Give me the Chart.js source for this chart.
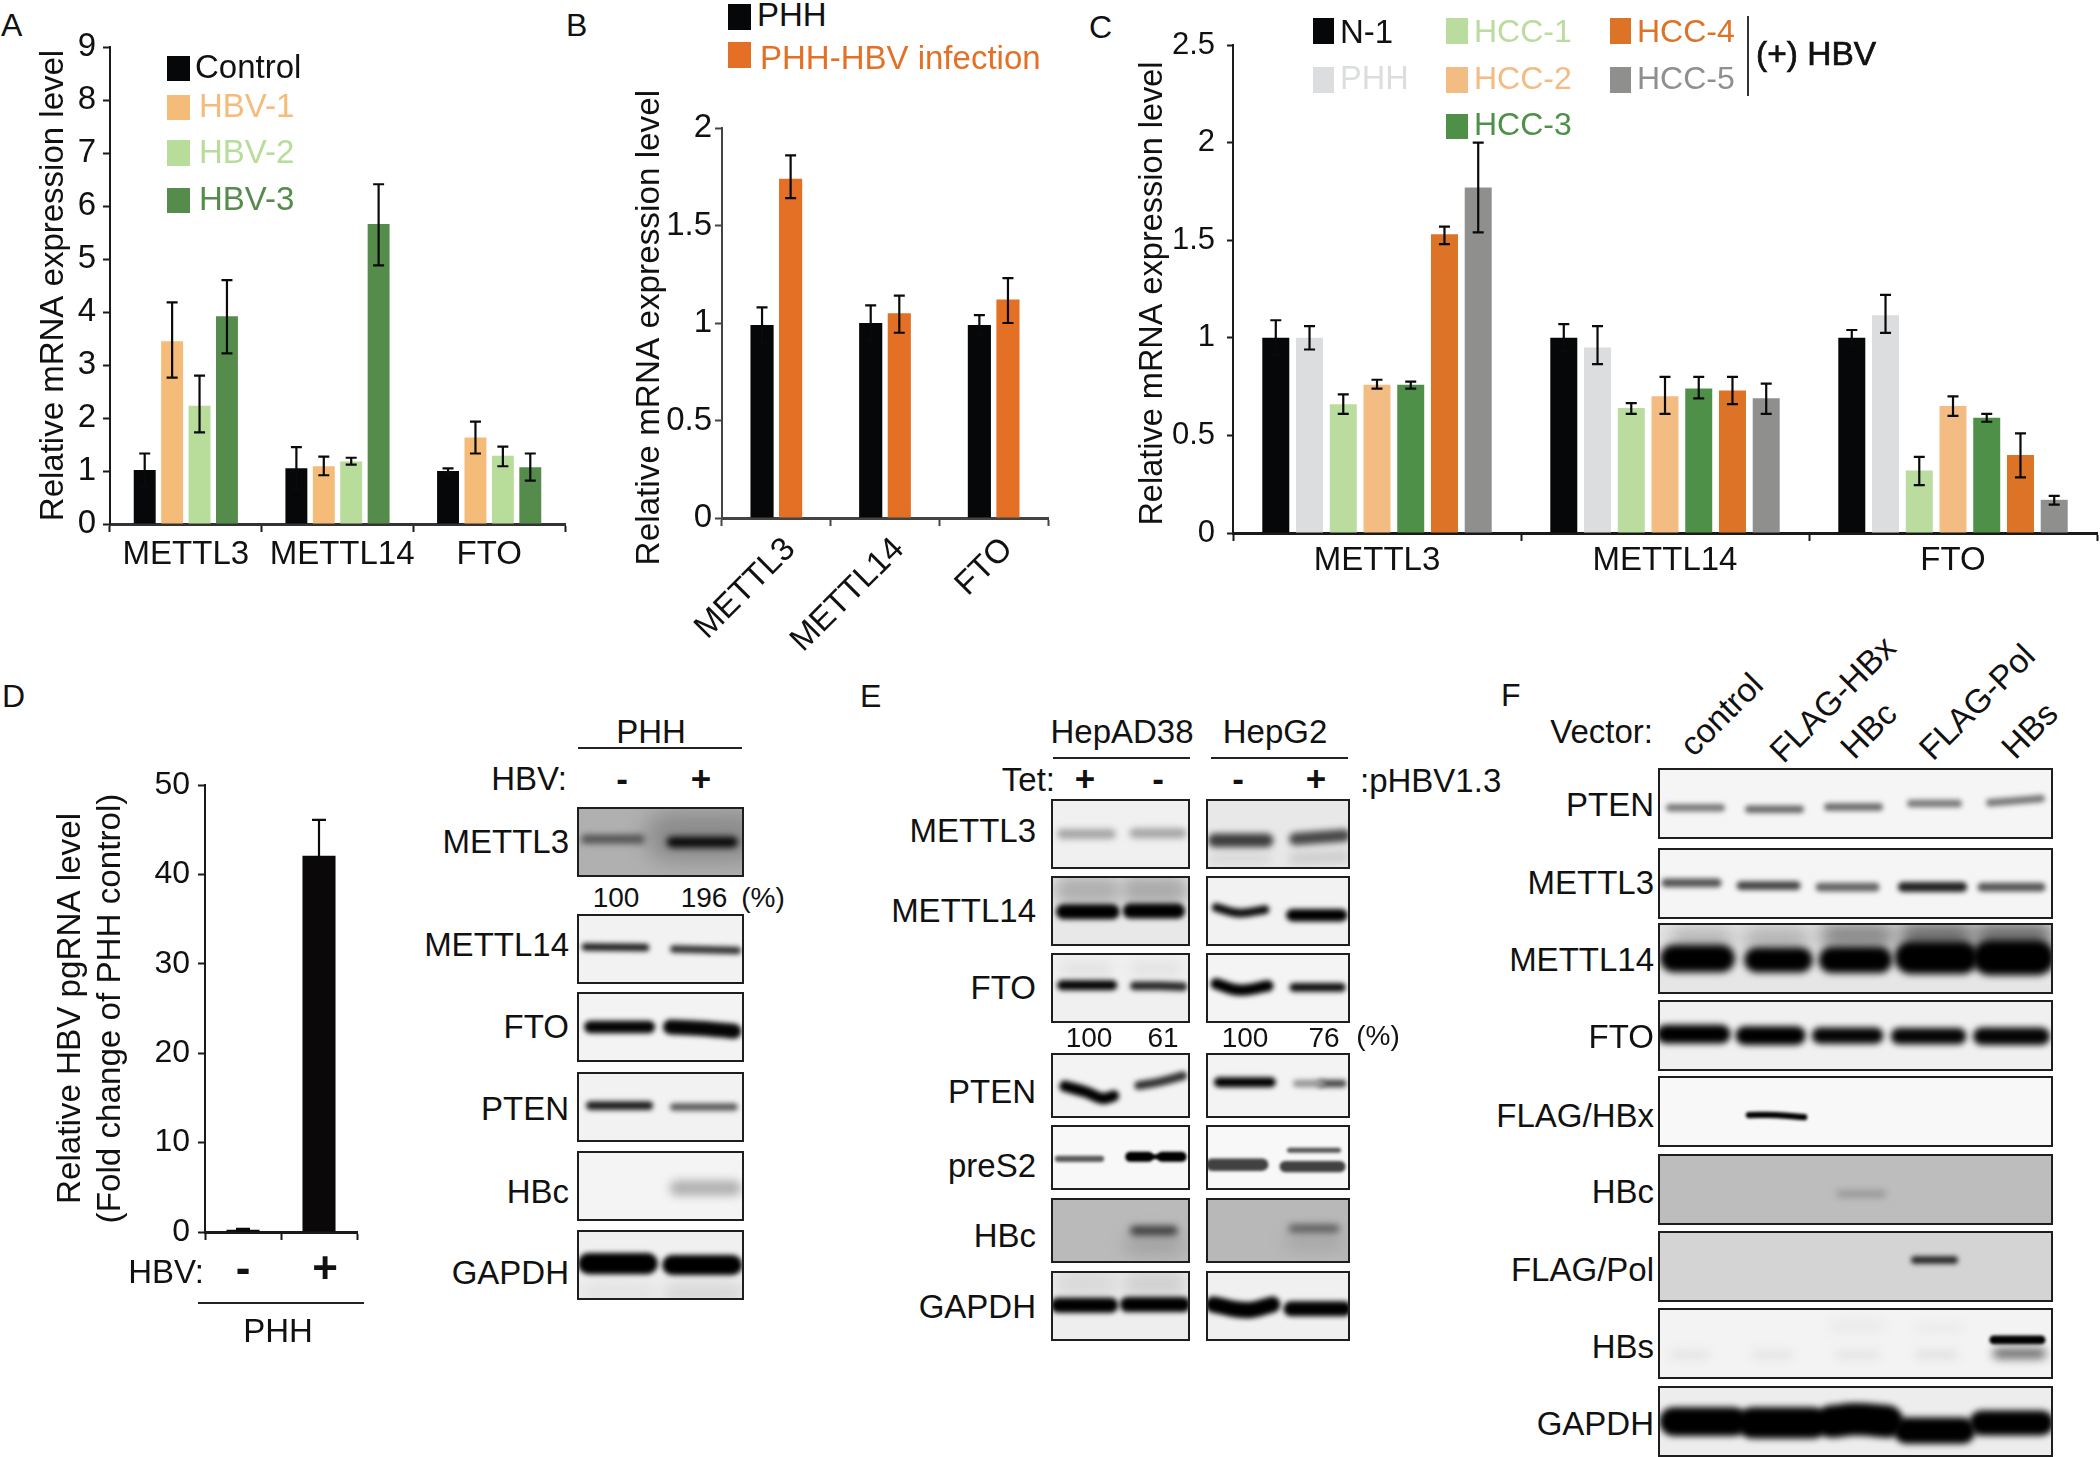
<!DOCTYPE html>
<html>
<head>
<meta charset="utf-8">
<title>HBV and m6A regulators</title>
<script src="https://cdn.jsdelivr.net/npm/chart.js@4"></script>
<style>
    html, body { margin: 0; padding: 0; background: #fff; }
    #page { position: relative; width: 2100px; height: 1457px; overflow: hidden; font-family: "Liberation Sans", Arial, sans-serif; color: #111; }
    #page canvas { position: absolute; }
    .txt { position: absolute; line-height: 1; white-space: nowrap; }
    .box { position: absolute; }
</style>
</head>
<body>
<div id="page"></div>
<script>
const genes = ["METTL3", "METTL14", "FTO"];

// panel A
const controlA = [1.02, 1.05, 1.0];
const hbv1A = [3.45, 1.09, 1.63];
const hbv2A = [2.23, 1.18, 1.29];
const hbv3A = [3.92, 5.66, 1.07];
const hiA = [[1.33, 1.45, 1.05], [4.18, 1.27, 1.93], [2.8, 1.25, 1.46], [4.6, 6.41, 1.33]];
const loA = [[0.71, 0.65, 0.95], [2.76, 0.92, 1.33], [1.73, 1.12, 1.09], [3.22, 4.88, 0.82]];
const ticksA = [0, 1, 2, 3, 4, 5, 6, 7, 8, 9];

// panel B
const phhB = [0.99, 1.0, 0.99];
const infectedB = [1.74, 1.05, 1.12];
const hiB = [[1.08, 1.09, 1.04], [1.86, 1.14, 1.23]];
const loB = [[0.9, 0.91, 0.94], [1.64, 0.95, 1.0]];
const ticksB = [0, 0.5, 1, 1.5, 2];

// panel C
const n1C = [1.0, 1.0, 1.0];
const phhC = [1.0, 0.95, 1.115];
const hcc1C = [0.66, 0.64, 0.32];
const hcc2C = [0.76, 0.7, 0.65];
const hcc3C = [0.76, 0.74, 0.59];
const hcc4C = [1.53, 0.73, 0.4];
const hcc5C = [1.77, 0.69, 0.17];
const hiC = [[1.09, 1.07, 1.04], [1.06, 1.06, 1.22], [0.71, 0.665, 0.39], [0.785, 0.8, 0.7], [0.775, 0.8, 0.61], [1.57, 0.8, 0.51], [2.0, 0.765, 0.19]];
const loC = [[0.91, 0.93, 0.96], [0.94, 0.865, 1.025], [0.61, 0.61, 0.245], [0.74, 0.61, 0.6], [0.74, 0.69, 0.57], [1.48, 0.66, 0.285], [1.54, 0.61, 0.145]];
const ticksC = [0, 0.5, 1, 1.5, 2, 2.5];

// panel D
const signsD = ["-", "+"];
const pgrnaD = [0.25, 42.1];
const hiD = [[0.35, 46.1]];
const loD = [[0.15, 41.5]];
const ticksD = [0, 10, 20, 30, 40, 50];

// blots: each band is [[x, y, x, y, ...], thickness, grey, blur], on a 0-100 scale of the blot
const blotBgD = [176, 242, 243, 242, 244, 240];
const blotD = [
    [[[5, 46, 38, 46], 7, 80, 2.5], [[57, 50, 93, 50], 9, 10, 2.5], [[56, 42, 96, 42], 40, 140, 9]],
    [[[5, 47, 41, 48], 6, 30, 2], [[58, 50, 96, 52], 6, 50, 2]],
    [[[8, 50, 43, 50], 10, 5, 2], [[56, 50, 75, 52, 94, 56], 12, 5, 2]],
    [[[8, 48, 43, 48], 7, 30, 2], [[58, 50, 94, 50], 6, 90, 2]],
    [[[60, 53, 94, 53], 12, 175, 4]],
    [[[7, 48, 42, 48], 17, 0, 2], [[57, 50, 93, 50], 16, 0, 2], [[8, 90, 42, 90], 16, 225, 6], [[58, 90, 94, 90], 18, 215, 6]]
];
const blotBgE1 = [240, 232, 240, 243, 248, 186, 238];
const blotE1 = [
    [[[8, 50, 43, 50], 8, 165, 2.5], [[60, 49, 94, 49], 8, 165, 2.5]],
    [[[9, 51, 44, 51], 12, 0, 2], [[57, 50, 91, 50], 12, 0, 2], [[12, 20, 41, 20], 24, 175, 6], [[60, 20, 89, 20], 24, 170, 6]],
    [[[8, 46, 44, 46], 8, 5, 2], [[60, 47, 78, 47, 95, 48], 7, 40, 2], [[12, 22, 40, 22], 10, 225, 5], [[62, 22, 90, 22], 10, 225, 5]],
    [[[10, 51, 25, 60, 37, 70, 45, 66], 9, 0, 2], [[63, 50, 77, 45, 95, 35], 7, 50, 2]],
    [[[5, 52, 36, 52], 5, 90, 1.5], [[57, 49, 70, 49], 8, 0, 1.5], [[80, 49, 94, 49], 8, 0, 1.5], [[57, 49, 94, 49], 4, 20, 1]],
    [[[60, 50, 88, 50], 7, 55, 3], [[60, 70, 88, 70], 16, 160, 7]],
    [[[5, 49, 43, 49], 12, 0, 2], [[55, 48, 95, 48], 12, 0, 2], [[10, 18, 40, 18], 20, 215, 7], [[60, 18, 90, 18], 20, 205, 7]]
];
const blotBgE2 = [232, 242, 244, 243, 248, 184, 240];
const blotE2 = [
    [[[6, 59, 42, 59], 11, 60, 2.5], [[62, 57, 96, 52], 10, 70, 2.5], [[6, 85, 42, 85], 8, 215, 4], [[62, 85, 96, 82], 10, 205, 4]],
    [[[7, 45, 23, 53, 41, 48], 7, 15, 2], [[60, 56, 94, 56], 10, 0, 2]],
    [[[7, 44, 23, 53, 43, 47], 9, 0, 2], [[61, 49, 94, 49], 7, 15, 2]],
    [[[9, 45, 45, 45], 8, 0, 2], [[63, 47, 80, 47], 6, 150, 2], [[80, 47, 95, 47], 6, 70, 2]],
    [[[4, 61, 39, 61], 10, 65, 1.5], [[58, 39, 92, 39], 4, 85, 1.5], [[55, 64, 93, 64], 9, 65, 1.5]],
    [[[60, 47, 90, 47], 6, 85, 3], [[60, 67, 90, 67], 12, 165, 6]],
    [[[5, 48, 28, 56, 46, 48], 13, 0, 2], [[59, 54, 96, 54], 12, 0, 2]]
];
const blotBgF = [245, 245, 230, 240, 248, 189, 212, 243, 237];
const blotF = [
    [[[3, 56, 16, 56], 6, 120, 2], [[23, 58, 36, 58], 6, 105, 2], [[43, 55, 56, 55], 6, 105, 2], [[64, 50, 76, 50], 6, 120, 2], [[84, 49, 97, 43], 6, 120, 2]],
    [[[2, 49, 15, 49], 7, 85, 2], [[21, 53, 35, 53], 7, 70, 2], [[41, 55, 55, 55], 7, 100, 2], [[62, 55, 77, 55], 8, 35, 2], [[82, 55, 97, 55], 7, 85, 2]],
    [[[4, 50, 16, 50], 22, 0, 3], [[25, 52, 36, 52], 20, 0, 3], [[44, 52, 56, 52], 21, 0, 3], [[64, 49, 77, 49], 26, 0, 3], [[84, 49, 96, 49], 28, 0, 3], [[5, 22, 17, 22], 14, 170, 7], [[24, 22, 36, 22], 16, 170, 7], [[44, 18, 57, 18], 20, 130, 7], [[64, 18, 77, 18], 20, 100, 7], [[83, 18, 97, 18], 20, 100, 7]],
    [[[2, 48, 16, 48], 15, 0, 2.5], [[22, 50, 35, 50], 15, 0, 2.5], [[41, 50, 55, 50], 13, 5, 2.5], [[61, 51, 76, 51], 13, 5, 2.5], [[82, 51, 97, 51], 14, 5, 2.5]],
    [[[23, 55, 30, 55, 37, 58], 5, 0, 1.5]],
    [[[46, 56, 57, 56], 5, 145, 3]],
    [[[65, 41, 75, 41], 6, 35, 2]],
    [[[85, 45, 97, 45], 7, 0, 1.5], [[86, 64, 97, 64], 8, 100, 4], [[4, 66, 12, 66], 6, 225, 4], [[25, 66, 33, 66], 6, 225, 4], [[46, 66, 55, 66], 6, 225, 4], [[66, 66, 75, 66], 6, 222, 4], [[45, 25, 56, 25], 8, 232, 5], [[66, 28, 76, 28], 6, 232, 5]],
    [[[4, 50, 19, 50], 23, 0, 2.5], [[24, 52, 39, 52], 25, 0, 2.5], [[44, 50, 50, 47, 58, 50], 26, 0, 2.5], [[63, 63, 77, 63], 21, 0, 2.5], [[82, 52, 97, 52], 20, 0, 2.5]]
];
const blotRowsD = ["METTL3", "METTL14", "FTO", "PTEN", "HBc", "GAPDH"];
const blotRowsE = ["METTL3", "METTL14", "FTO", "PTEN", "preS2", "HBc", "GAPDH"];
const blotRowsF = ["PTEN", "METTL3", "METTL14", "FTO", "FLAG/HBx", "HBc", "FLAG/Pol", "HBs", "GAPDH"];
const vectorsF = ["control", "FLAG-HBx", "HBc", "FLAG-Pol", "HBs"];

const FONT = '"Liberation Sans", Arial, sans-serif';
const page = document.getElementById("page");

function txt(str, x, y, opt) {
    opt = opt || {};
    const el = document.createElement("div");
    el.className = "txt";
    el.textContent = str;
    el.style.left = x + "px";
    el.style.top = y + "px";
    el.style.fontSize = (opt.size || 33) + "px";
    el.style.color = opt.color || "#111";
    if (opt.weight) el.style.fontWeight = opt.weight;
    if (opt.stroke) el.style.webkitTextStroke = opt.stroke;
    const shift = opt.align === "right" ? "-100%" : opt.align === "center" ? "-50%" : "0";
    if (opt.rot) {
        el.style.transformOrigin = "100% 50%";
        el.style.transform = "translate(-100%,-50%) rotate(" + opt.rot + "deg)";
    } else {
        el.style.transform = "translate(" + shift + ",-50%)";
    }
    page.appendChild(el);
}

function box(x, y, w, h, color) {
    const el = document.createElement("div");
    el.className = "box";
    el.style.cssText = "left:" + x + "px;top:" + y + "px;width:" + w + "px;height:" + h + "px;background:" + color;
    page.appendChild(el);
}

function addCanvas(x, y, w, h) {
    const c = document.createElement("canvas");
    c.width = w;
    c.height = h;
    c.style.left = x + "px";
    c.style.top = y + "px";
    c.style.width = w + "px";
    c.style.height = h + "px";
    page.appendChild(c);
    return c;
}

// whiskers for the bars, taken from errHi / errLo on each dataset
const errorBars = {
    id: "errorBars",
    afterDatasetsDraw(chart) {
        const ctx = chart.ctx;
        const y = chart.scales.y;
        ctx.save();
        ctx.strokeStyle = "#0a0a0a";
        ctx.lineWidth = 2.2;
        chart.data.datasets.forEach((ds, i) => {
            chart.getDatasetMeta(i).data.forEach((bar, j) => {
                const top = y.getPixelForValue(ds.errHi[j]);
                const bot = y.getPixelForValue(ds.errLo[j]);
                const cap = ds.capSize || 5.5;
                ctx.beginPath();
                ctx.moveTo(bar.x, top);
                ctx.lineTo(bar.x, bot);
                ctx.moveTo(bar.x - cap, top);
                ctx.lineTo(bar.x + cap, top);
                ctx.moveTo(bar.x - cap, bot);
                ctx.lineTo(bar.x + cap, bot);
                ctx.stroke();
            });
        });
        ctx.restore();
    }
};

function barPanel(cfg) {
    const left = cfg.titleX - 20;
    const top = cfg.topY - 60;
    const width = cfg.rightX - left + 20;
    const height = cfg.zeroY - top + cfg.bottom;
    const canvas = addCanvas(left, top, width, height);
    const axisColor = cfg.axisColor || "#1a1a1a";
    new Chart(canvas, {
        type: "bar",
        data: {
            labels: cfg.labels,
            datasets: cfg.series.map((s, i) => ({
                label: s.name,
                data: s.values,
                backgroundColor: s.color,
                errHi: cfg.hi[i],
                errLo: cfg.lo[i],
                capSize: cfg.capSize,
                categoryPercentage: cfg.catPct,
                barPercentage: cfg.barPct
            }))
        },
        options: {
            responsive: false,
            animation: false,
            layout: { padding: { top: 60, right: 20 } },
            plugins: { legend: { display: false }, tooltip: { enabled: false } },
            scales: {
                x: {
                    afterFit: s => { s.height = cfg.bottom; },
                    border: { color: cfg.baseColor || axisColor, width: 3 },
                    grid: { drawOnChartArea: false, tickLength: cfg.xTick || 8, tickColor: axisColor, tickWidth: 2 },
                    ticks: Object.assign({
                        autoSkip: false,
                        color: "#111",
                        maxRotation: 0,
                        minRotation: 0,
                        padding: cfg.xPad,
                        font: { family: FONT, size: 33 }
                    }, cfg.xTicks || {})
                },
                y: {
                    min: 0,
                    max: cfg.ticks[cfg.ticks.length - 1],
                    afterFit: s => { s.width = cfg.axisX - left; },
                    afterBuildTicks: s => { s.ticks = cfg.ticks.map(v => ({ value: v })); },
                    border: { color: axisColor, width: 2 },
                    grid: { drawOnChartArea: false, tickLength: cfg.yTick || 7, tickColor: axisColor, tickWidth: 2 },
                    ticks: {
                        color: "#111",
                        padding: cfg.yPad,
                        callback: v => String(v),
                        font: { family: FONT, size: cfg.size || 33 }
                    },
                    title: {
                        display: true,
                        text: cfg.title,
                        color: "#111",
                        padding: 0,
                        font: { family: FONT, size: cfg.titleSize || 33 }
                    }
                }
            }
        },
        plugins: [errorBars]
    });
}

// one blot is a little chart: each band is a thick blurred line on a 0-100 scale
const blotLook = {
    id: "blotLook",
    beforeDraw(chart) {
        const g = chart.config.options.plugins.blotLook.bg;
        chart.ctx.fillStyle = "rgb(" + g + "," + g + "," + g + ")";
        chart.ctx.fillRect(0, 0, chart.width, chart.height);
    },
    beforeDatasetDraw(chart, args) {
        chart.ctx.filter = "blur(" + chart.data.datasets[args.index].blurPx + "px)";
    },
    afterDatasetDraw(chart) {
        chart.ctx.filter = "none";
    },
    afterDraw(chart) {
        const ctx = chart.ctx;
        ctx.strokeStyle = "#1e1e1e";
        ctx.lineWidth = 2;
        ctx.strokeRect(1, 1, chart.width - 2, chart.height - 2);
    }
};

function blot(x, y, w, h, bg, bands) {
    const canvas = addCanvas(x, y, w, h);
    new Chart(canvas, {
        type: "line",
        data: {
            datasets: bands.map(b => {
                const pts = [];
                for (let i = 0; i < b[0].length; i += 2) pts.push({ x: b[0][i], y: b[0][i + 1] });
                return {
                    data: pts,
                    borderWidth: b[1] * 1.25,
                    borderColor: "rgb(" + b[2] + "," + b[2] + "," + b[2] + ")",
                    borderCapStyle: "round",
                    tension: 0.4,
                    pointRadius: 0,
                    blurPx: b[3] * 1.2
                };
            })
        },
        options: {
            responsive: false,
            animation: false,
            parsing: false,
            layout: { padding: 0 },
            plugins: { legend: { display: false }, tooltip: { enabled: false }, blotLook: { bg: bg } },
            scales: {
                x: { type: "linear", min: 0, max: 100, display: false },
                y: { type: "linear", min: 0, max: 100, reverse: true, display: false }
            }
        },
        plugins: [blotLook]
    });
}

// panel letters
txt("A", 1, 25, { size: 32 });
txt("B", 566, 25, { size: 32 });
txt("C", 1089, 27, { size: 32 });
txt("D", 2, 696, { size: 32 });
txt("E", 860, 696, { size: 32 });
txt("F", 1501, 695, { size: 32 });

// A
const colorsA = ["#050708", "#f5bb78", "#b8dc9a", "#558c4c"];
barPanel({
    titleX: 54, axisX: 110, rightX: 565, topY: 47, zeroY: 524, bottom: 60,
    labels: genes, ticks: ticksA, hi: hiA, lo: loA,
    catPct: 0.723, barPct: 0.8, xPad: 3, yPad: 7,
    title: "Relative mRNA expression level",
    baseColor: "#333",
    xTicks: { callback: (v, i) => (i === 1 ? " " : "") + genes[i] },
    series: [
        { name: "Control", values: controlA, color: colorsA[0] },
        { name: "HBV-1", values: hbv1A, color: colorsA[1] },
        { name: "HBV-2", values: hbv2A, color: colorsA[2] },
        { name: "HBV-3", values: hbv3A, color: colorsA[3] }
    ]
});
box(167, 56, 23, 25, colorsA[0]);
box(167, 95, 23, 25, colorsA[1]);
box(167, 140, 23, 26, colorsA[2]);
box(167, 188, 23, 25, colorsA[3]);
txt("Control", 195, 66);
txt("HBV-1", 199, 105, { color: colorsA[1] });
txt("HBV-2", 199, 151, { color: colorsA[2] });
txt("HBV-3", 199, 198, { color: colorsA[3] });

// B
const orangeB = "#e37025";
barPanel({
    titleX: 650, axisX: 722, rightX: 1048, topY: 128, zeroY: 518, bottom: 150,
    labels: genes, ticks: ticksB, hi: hiB, lo: loB,
    catPct: 0.526, barPct: 0.81, xPad: 4, yPad: 3,
    // the trailing space nudges the title down along the axis
    title: "Relative mRNA expression level ",
    titleSize: 33.3,
    axisColor: "#444",
    xTicks: { minRotation: 45, maxRotation: 45, labelOffset: 14 },
    series: [
        { name: "PHH", values: phhB, color: "#050708" },
        { name: "PHH-HBV infection", values: infectedB, color: orangeB }
    ]
});
box(728, 4, 23, 26, "#050708");
box(728, 42, 23, 26, orangeB);
txt("PHH", 757, 14);
txt("PHH-HBV infection", 760, 57, { color: orangeB });

// C
const colorsC = ["#050708", "#dcddde", "#bbdc9f", "#f3bc82", "#4e9048", "#dc7326", "#8f8f8d"];
barPanel({
    titleX: 1154, axisX: 1233, rightX: 2097, topY: 45, zeroY: 533, bottom: 60,
    labels: genes, ticks: ticksC, hi: hiC, lo: loC,
    catPct: 0.82, barPct: 0.8, xPad: 0, yPad: 12, yTick: 6, size: 31,
    title: "Relative mRNA expression level ",
    titleSize: 32.5,
    xTicks: { font: { family: FONT, size: 33 } },
    series: [
        { name: "N-1", values: n1C, color: colorsC[0] },
        { name: "PHH", values: phhC, color: colorsC[1] },
        { name: "HCC-1", values: hcc1C, color: colorsC[2] },
        { name: "HCC-2", values: hcc2C, color: colorsC[3] },
        { name: "HCC-3", values: hcc3C, color: colorsC[4] },
        { name: "HCC-4", values: hcc4C, color: colorsC[5] },
        { name: "HCC-5", values: hcc5C, color: colorsC[6] }
    ]
});
box(1313, 18, 21, 26, colorsC[0]);
box(1313, 67, 21, 26, colorsC[1]);
box(1446, 18, 22, 26, colorsC[2]);
box(1446, 67, 22, 26, colorsC[3]);
box(1446, 114, 22, 25, colorsC[4]);
box(1610, 18, 21, 26, colorsC[5]);
box(1610, 67, 21, 26, colorsC[6]);
txt("N-1", 1340, 31, { size: 33 });
txt("PHH", 1340, 78, { size: 32.5, color: colorsC[1] });
txt("HCC-1", 1474, 31, { size: 32, color: colorsC[2] });
txt("HCC-2", 1474, 78, { size: 32, color: colorsC[3] });
txt("HCC-3", 1474, 124, { size: 32, color: colorsC[4] });
txt("HCC-4", 1637, 31, { size: 32, color: colorsC[5] });
txt("HCC-5", 1637, 78, { size: 32, color: colorsC[6] });
box(1747, 16, 2, 80, "#333");
txt("(+) HBV", 1756, 54, { size: 33.5, stroke: "0.7px #111" });

// D bar chart
barPanel({
    titleX: 71, axisX: 205, rightX: 357, topY: 785, zeroY: 1232, bottom: 65,
    labels: signsD, ticks: ticksD, hi: hiD, lo: loD,
    catPct: 0.435, barPct: 1, xPad: 4, yPad: 8, size: 32, capSize: 7,
    title: ["Relative HBV pgRNA level", "(Fold change of PHH control)"],
    titleSize: 33.2,
    xTicks: {
        font: { family: FONT, size: 44, weight: "bold" },
        callback: (v, i) => (i === 1 ? " " : "") + signsD[i]
    },
    series: [{ name: "PHH", values: pgrnaD, color: "#0a0808" }]
});
txt("HBV:", 204, 1271, { align: "right" });
box(198, 1302, 166, 2, "#222");
txt("PHH", 278, 1330, { align: "center" });

// D blots
txt("PHH", 651, 731, { align: "center" });
box(578, 747, 164, 2, "#222");
txt("HBV:", 567, 778, { align: "right" });
txt("-", 622, 778, { align: "center", size: 35, weight: "bold" });
txt("+", 701, 778, { align: "center", size: 35, weight: "bold" });
const rowTopD = [807, 914, 992, 1072, 1151, 1230];
const rowMidD = [841, 944, 1026, 1108, 1191, 1272];
blotRowsD.forEach((name, i) => {
    blot(577, rowTopD[i], 167, 70, blotBgD[i], blotD[i]);
    txt(name, 569, rowMidD[i], { align: "right", size: 33 });
});
txt("100", 616, 898, { align: "center", size: 28 });
txt("196", 704, 898, { align: "center", size: 28 });
txt("(%)", 763, 898, { align: "center", size: 28 });

// E
txt("HepAD38", 1122, 731, { align: "center" });
txt("HepG2", 1275, 731, { align: "center" });
box(1053, 757, 137, 2, "#222");
box(1211, 757, 137, 2, "#222");
txt("Tet:", 1055, 779, { align: "right" });
txt("+", 1085, 778, { align: "center", size: 35, weight: "bold" });
txt("-", 1158, 778, { align: "center", size: 35, weight: "bold" });
txt("-", 1238, 778, { align: "center", size: 35, weight: "bold" });
txt("+", 1316, 778, { align: "center", size: 35, weight: "bold" });
txt(":pHBV1.3", 1360, 780);
const rowTopE = [799, 876, 953, 1053, 1125, 1198, 1271];
const rowMidE = [830, 910, 987, 1091, 1165, 1235, 1306];
const rowHeightE = [70, 70, 70, 65, 65, 65, 70];
blotRowsE.forEach((name, i) => {
    blot(1051, rowTopE[i], 139, rowHeightE[i], blotBgE1[i], blotE1[i]);
    blot(1206, rowTopE[i], 144, rowHeightE[i], blotBgE2[i], blotE2[i]);
    txt(name, 1036, rowMidE[i], { align: "right", size: 33 });
});
txt("100", 1089, 1038, { align: "center", size: 28 });
txt("61", 1163, 1038, { align: "center", size: 28 });
txt("100", 1245, 1038, { align: "center", size: 28 });
txt("76", 1324, 1038, { align: "center", size: 28 });
txt("(%)", 1378, 1036, { align: "center", size: 28 });

// F
txt("Vector:", 1653, 731, { align: "right" });
const vectorEndX = [1757, 1890, 1891, 2029, 2052];
const vectorEndY = [679, 642, 708, 650, 708];
vectorsF.forEach((name, i) => {
    txt(name, vectorEndX[i], vectorEndY[i], { size: 33.5, rot: -45 });
});
const rowTopF = [768, 848, 923, 1000, 1076, 1154, 1231, 1308, 1386];
const rowMidF = [804, 882, 959, 1036, 1115, 1191, 1269, 1346, 1423];
blotRowsF.forEach((name, i) => {
    blot(1658, rowTopF[i], 395, 71, blotBgF[i], blotF[i]);
    txt(name, 1654, rowMidF[i], { align: "right", size: 33 });
});
</script>
</body>
</html>
